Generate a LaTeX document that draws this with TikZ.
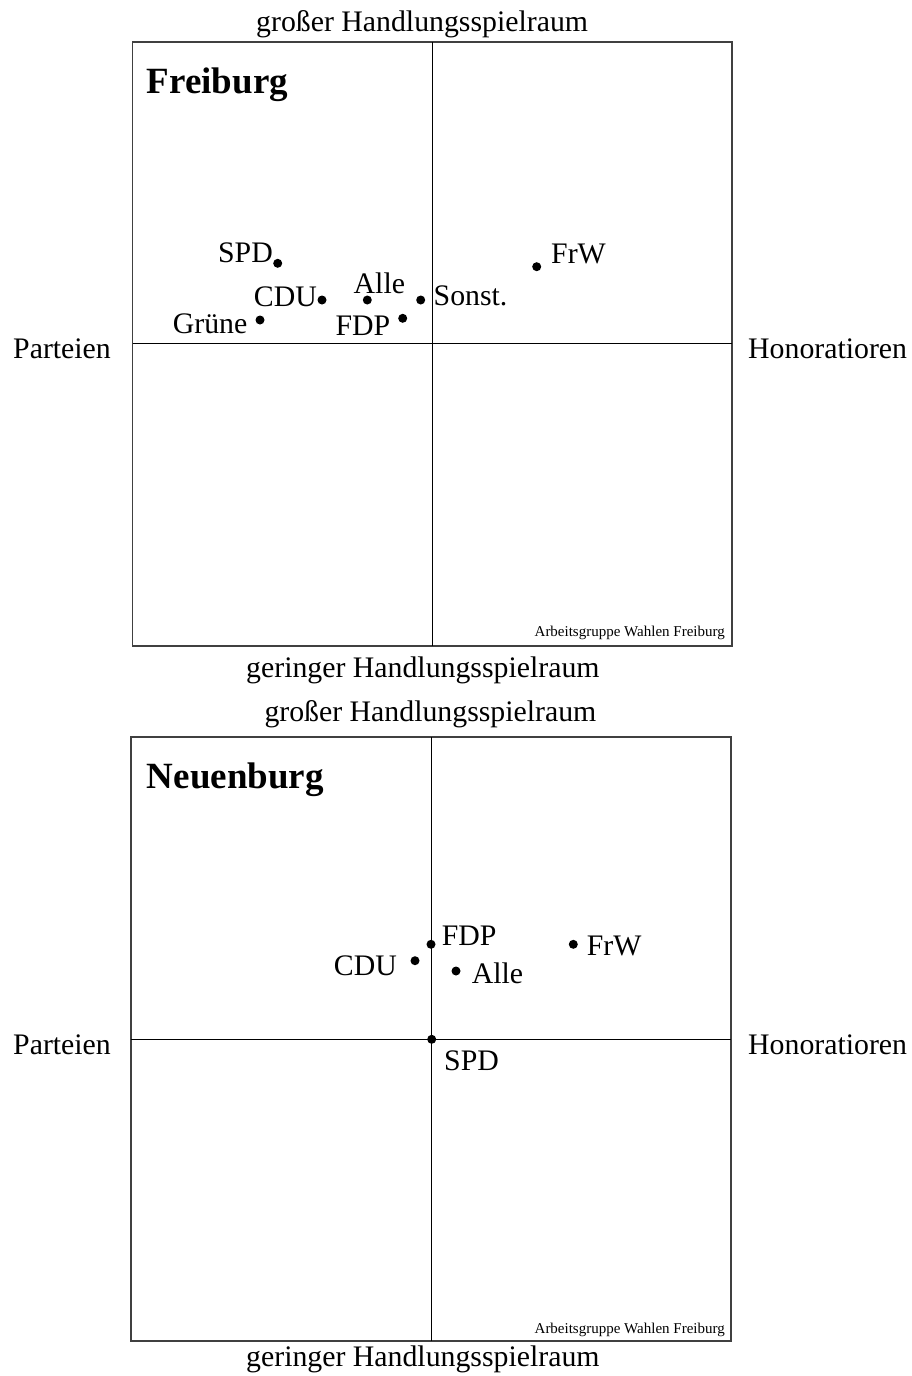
\documentclass[tikz,border=0pt]{standalone}
\usepackage{fontspec}
\setmainfont{Liberation Serif}
\begin{document}
\begin{tikzpicture}[x=1pt,y=-1pt,
    dot/.style={circle,fill=black,inner sep=0pt,minimum size=9pt},
    lbl/.style={inner sep=0pt,font=\fontsize{29.8}{34}\selectfont},
    city/.style={inner sep=0pt,anchor=base west,font=\fontsize{37}{42}\selectfont\bfseries},
    credit/.style={inner sep=0pt,anchor=base east,font=\fontsize{15}{18}\selectfont},
    frame/.style={draw=black!75,line width=1.3pt},
    cross/.style={draw=black,line width=1pt}]
  \useasboundingbox (0,0) rectangle (912,1376);
  % Freiburg
  \coordinate (fr-nw) at (132.5,42);
  \coordinate (fr-se) at (732,646);
  \coordinate (fr-n) at (432.5,42);
  \coordinate (fr-s) at (432.5,646);
  \coordinate (fr-w) at (132.5,343.3);
  \coordinate (fr-e) at (732,343.3);
  \draw[frame] (fr-nw) rectangle (fr-se);
  \draw[cross] (fr-n) -- (fr-s);
  \draw[cross] (fr-w) -- (fr-e);
  \node[lbl,anchor=base west] (fr-top) at (256,31.7) {großer Handlungsspielraum};
  \node[lbl,anchor=base west] (fr-bot) at (246,677.3) {geringer Handlungsspielraum};
  \node[lbl,anchor=base west] (fr-left) at (13,358.3) {Parteien};
  \node[lbl,anchor=base west] (fr-right) at (748,358.3) {Honoratioren};
  \node[city] (fr-title) at (146.7,93.3) {Freiburg};
  \node[credit] (fr-credit) at (725,636.7) {Arbeitsgruppe Wahlen Freiburg};
  \node[dot] (fr-spd) at (277.7,263.3) {};
  \node[dot] (fr-cdu) at (322,300) {};
  \node[dot] (fr-gruene) at (260,320) {};
  \node[dot] (fr-alle) at (367.3,300) {};
  \node[dot] (fr-sonst) at (420.7,300) {};
  \node[dot] (fr-fdp) at (402.7,318.3) {};
  \node[dot] (fr-frw) at (536.7,266.7) {};
  \node[lbl,anchor=base east] (fr-spd-l) at (273,262.7) {SPD};
  \node[lbl,anchor=base east] (fr-cdu-l) at (317,306.7) {CDU};
  \node[lbl,anchor=base east] (fr-gruene-l) at (247.5,333.3) {Grüne};
  \node[lbl,anchor=base west] (fr-alle-l) at (353.5,293.3) {Alle};
  \node[lbl,anchor=base west] (fr-sonst-l) at (433.5,305) {Sonst.};
  \node[lbl,anchor=base east] (fr-fdp-l) at (390.5,335) {FDP};
  \node[lbl,anchor=base west] (fr-frw-l) at (551,263.3) {FrW};
  % Neuenburg
  \coordinate (ne-nw) at (131,737);
  \coordinate (ne-se) at (731,1341);
  \coordinate (ne-n) at (431.7,737);
  \coordinate (ne-s) at (431.7,1341);
  \coordinate (ne-w) at (131,1039.3);
  \coordinate (ne-e) at (731,1039.3);
  \draw[frame] (ne-nw) rectangle (ne-se);
  \draw[cross] (ne-n) -- (ne-s);
  \draw[cross] (ne-w) -- (ne-e);
  \node[lbl,anchor=base west] (ne-top) at (264.3,721) {großer Handlungsspielraum};
  \node[lbl,anchor=base west] (ne-bot) at (246,1366.7) {geringer Handlungsspielraum};
  \node[lbl,anchor=base west] (ne-left) at (13,1054.3) {Parteien};
  \node[lbl,anchor=base west] (ne-right) at (748,1054.3) {Honoratioren};
  \node[city] (ne-title) at (146.7,788.3) {Neuenburg};
  \node[credit] (ne-credit) at (725,1333.3) {Arbeitsgruppe Wahlen Freiburg};
  \node[dot] (ne-fdp) at (431,944.3) {};
  \node[dot] (ne-cdu) at (415,960.7) {};
  \node[dot] (ne-alle) at (456,971) {};
  \node[dot] (ne-frw) at (573.3,944.3) {};
  \node[dot] (ne-spd) at (431.7,1039.3) {};
  \node[lbl,anchor=base west] (ne-fdp-l) at (441.7,945) {FDP};
  \node[lbl,anchor=base east] (ne-cdu-l) at (397,975) {CDU};
  \node[lbl,anchor=base west] (ne-alle-l) at (471.7,983.3) {Alle};
  \node[lbl,anchor=base west] (ne-frw-l) at (586.7,955) {FrW};
  \node[lbl,anchor=base west] (ne-spd-l) at (444,1070) {SPD};
\end{tikzpicture}
\end{document}
